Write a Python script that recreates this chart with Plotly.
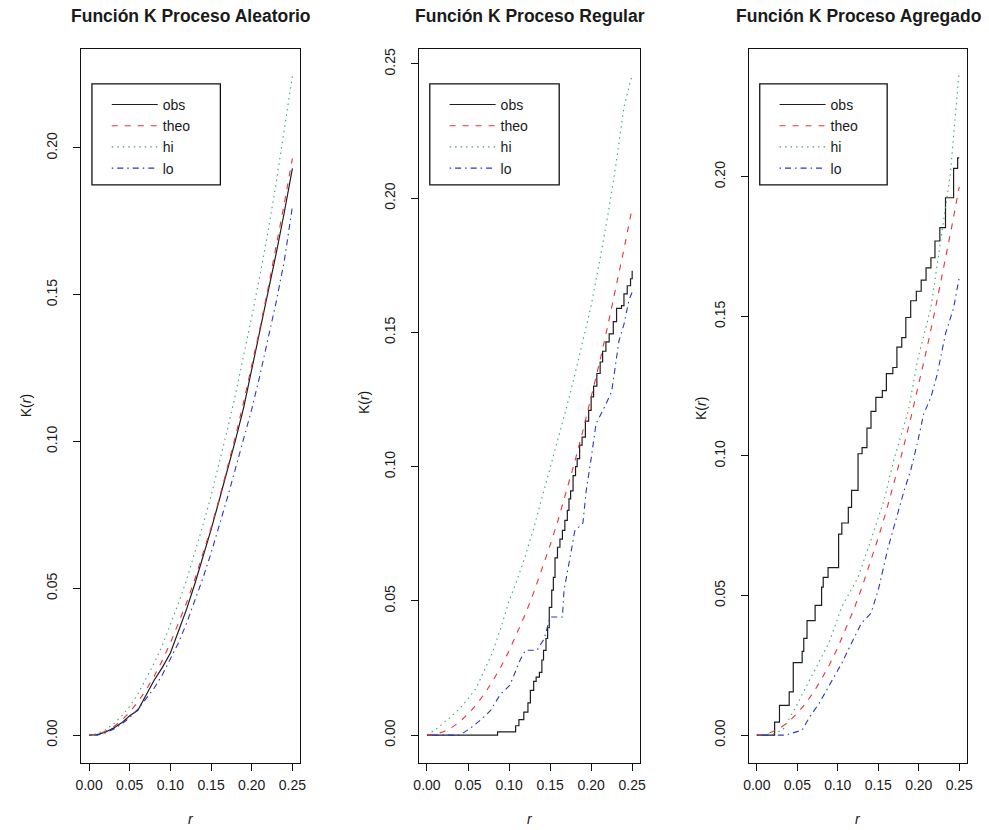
import plotly.graph_objects as go

W, H = 989, 830

# ---------------- data ----------------
titles = ["Función K Proceso Aleatorio", "Función K Proceso Regular", "Función K Proceso Agregado"]
series_names = ["obs", "theo", "hi", "lo"]
x_ticks = [0.00, 0.05, 0.10, 0.15, 0.20, 0.25]
y_ticks_1 = [0.00, 0.05, 0.10, 0.15, 0.20]
y_ticks_2 = [0.00, 0.05, 0.10, 0.15, 0.20, 0.25]
y_ticks_3 = [0.00, 0.05, 0.10, 0.15, 0.20]

r_grid = [0.00, 0.01, 0.02, 0.03, 0.04, 0.05, 0.06, 0.07, 0.08, 0.09, 0.10, 0.11, 0.12,
          0.13, 0.14, 0.15, 0.16, 0.17, 0.18, 0.19, 0.20, 0.21, 0.22, 0.23, 0.24, 0.25]
theo = [0.0000, 0.0003, 0.0013, 0.0028, 0.0050, 0.0079, 0.0113, 0.0154, 0.0201, 0.0254,
        0.0314, 0.0380, 0.0452, 0.0531, 0.0616, 0.0707, 0.0804, 0.0908, 0.1018, 0.1134,
        0.1257, 0.1385, 0.1521, 0.1662, 0.1810, 0.1964]

# Panel 1 (Aleatorio)
obs_1 = [0.0000, 0.0002, 0.0010, 0.0024, 0.0042, 0.0066, 0.0085, 0.0135, 0.0187, 0.0230,
         0.0280, 0.0355, 0.0430, 0.0515, 0.0605, 0.0700, 0.0800, 0.0900, 0.1005, 0.1115,
         0.1245, 0.1370, 0.1500, 0.1640, 0.1780, 0.1930]
hi_1 = [0.0000, 0.0005, 0.0018, 0.0038, 0.0065, 0.0098, 0.0140, 0.0190, 0.0245, 0.0305,
        0.0375, 0.0450, 0.0530, 0.0620, 0.0715, 0.0815, 0.0925, 0.1040, 0.1160, 0.1290,
        0.1425, 0.1565, 0.1715, 0.1880, 0.2055, 0.2245]
lo_1 = [0.0000, 0.0000, 0.0008, 0.0020, 0.0038, 0.0060, 0.0088, 0.0122, 0.0160, 0.0205,
        0.0258, 0.0315, 0.0382, 0.0455, 0.0535, 0.0620, 0.0712, 0.0808, 0.0908, 0.1010,
        0.1110, 0.1225, 0.1345, 0.1475, 0.1615, 0.1800]

# Panel 2 (Regular)
r_obs_2 = [0.000, 0.086, 0.108, 0.112, 0.118, 0.123, 0.126, 0.130, 0.133, 0.137, 0.140,
           0.142, 0.145, 0.147, 0.149, 0.152, 0.154, 0.156, 0.159, 0.162, 0.165, 0.168,
           0.171, 0.173, 0.175, 0.178, 0.181, 0.183, 0.186, 0.189, 0.193, 0.197, 0.200,
           0.203, 0.207, 0.211, 0.214, 0.218, 0.222, 0.227, 0.231, 0.237, 0.240, 0.244,
           0.248, 0.250]
obs_2 = [0.0000, 0.0012, 0.0035, 0.0058, 0.0086, 0.0120, 0.0167, 0.0200, 0.0216, 0.0234,
         0.0280, 0.0316, 0.0360, 0.0400, 0.0476, 0.0540, 0.0588, 0.0660, 0.0700, 0.0730,
         0.0763, 0.0800, 0.0837, 0.0880, 0.0910, 0.0967, 0.1000, 0.1030, 0.1080, 0.1110,
         0.1170, 0.1210, 0.1260, 0.1300, 0.1347, 0.1390, 0.1430, 0.1465, 0.1495, 0.1540,
         0.1590, 0.1600, 0.1644, 0.1674, 0.1700, 0.1730]
hi_2 = [0.0000, 0.0020, 0.0045, 0.0070, 0.0100, 0.0135, 0.0175, 0.0240, 0.0310, 0.0400,
        0.0500, 0.0580, 0.0670, 0.0770, 0.0880, 0.0990, 0.1100, 0.1220, 0.1340, 0.1470,
        0.1600, 0.1760, 0.1930, 0.2120, 0.2340, 0.2460]
r_lo_2 = [0.000, 0.040, 0.053, 0.065, 0.077, 0.089, 0.101, 0.1135, 0.120, 0.134, 0.143,
          0.150, 0.165, 0.167, 0.176, 0.180, 0.190, 0.194, 0.200, 0.206, 0.216, 0.225,
          0.234, 0.240, 0.246, 0.250]
lo_2 = [0.0000, 0.0000, 0.0026, 0.0056, 0.0090, 0.0150, 0.0186, 0.0280, 0.0316, 0.0316,
        0.0360, 0.0440, 0.0440, 0.0540, 0.0690, 0.0760, 0.0790, 0.0910, 0.1030, 0.1160,
        0.1220, 0.1280, 0.1470, 0.1530, 0.1620, 0.1650]

# Panel 3 (Agregado)
r_obs_3 = [0.000, 0.022, 0.028, 0.040, 0.045, 0.056, 0.058, 0.062, 0.072, 0.080, 0.082,
           0.088, 0.101, 0.105, 0.113, 0.117, 0.125, 0.130, 0.136, 0.141, 0.147, 0.155,
           0.160, 0.168, 0.173, 0.179, 0.184, 0.190, 0.197, 0.203, 0.209, 0.215, 0.220,
           0.226, 0.233, 0.243, 0.248, 0.250]
obs_3 = [0.0000, 0.0047, 0.0107, 0.0155, 0.0260, 0.0300, 0.0347, 0.0410, 0.0465, 0.0530,
         0.0565, 0.0600, 0.0720, 0.0760, 0.0816, 0.0877, 0.1008, 0.1030, 0.1100, 0.1160,
         0.1210, 0.1234, 0.1295, 0.1317, 0.1390, 0.1424, 0.1496, 0.1556, 0.1590, 0.1630,
         0.1674, 0.1710, 0.1770, 0.1818, 0.1925, 0.2030, 0.2068, 0.2068]
r_hi_3 = [0.000, 0.020, 0.032, 0.048, 0.065, 0.089, 0.105, 0.125, 0.141, 0.157, 0.170,
          0.187, 0.199, 0.215, 0.227, 0.239, 0.249, 0.250]
hi_3 = [0.0000, 0.0005, 0.0018, 0.0100, 0.0197, 0.0330, 0.0460, 0.0565, 0.0700, 0.0840,
        0.0995, 0.1160, 0.1350, 0.1530, 0.1770, 0.2010, 0.2350, 0.2370]
r_lo_3 = [0.000, 0.035, 0.056, 0.065, 0.077, 0.093, 0.105, 0.117, 0.129, 0.141, 0.150,
          0.162, 0.174, 0.182, 0.190, 0.199, 0.206, 0.215, 0.223, 0.233, 0.243, 0.250]
lo_3 = [0.0000, 0.0000, 0.0018, 0.0064, 0.0114, 0.0197, 0.0258, 0.0330, 0.0400, 0.0437,
        0.0520, 0.0670, 0.0800, 0.0877, 0.0948, 0.1055, 0.1150, 0.1210, 0.1295, 0.1438,
        0.1530, 0.1640]

# ---------------- layout helpers ----------------
def px_x(p):
    return p / W

def px_y(p):
    return 1 - p / H

FONT = "Liberation Sans, Arial, Helvetica, sans-serif"
TXT = "#1a1a1a"

styles = {
    "obs": dict(color="#1e1e1e", width=1.2, dash="solid"),
    "theo": dict(color="#e8323c", width=1.1, dash="6px,7px"),
    "hi": dict(color="#3aa86a", width=1.1, dash="1.5px,4px"),
    "lo": dict(color="#2b35c8", width=1.1, dash="1.5px,4px,6px,4px"),
}

panels = [
    dict(box=(76, 298), yr=(-0.0095, 0.2337), yt=y_ticks_1, leg=(87, 217),
         ytitle_x=20, ytitle_y=405,
         data={"obs": (r_grid, obs_1, "linear"), "theo": (r_grid, theo, "linear"),
               "hi": (r_grid, hi_1, "linear"), "lo": (r_grid, lo_1, "linear")}),
    dict(box=(418, 642), yr=(-0.0104, 0.2556), yt=y_ticks_2, leg=(429, 560),
         ytitle_x=362, ytitle_y=402,
         data={"obs": (r_obs_2, obs_2, "hv"), "theo": (r_grid, theo, "linear"),
               "hi": (r_grid, hi_2, "linear"), "lo": (r_lo_2, lo_2, "linear")}),
    dict(box=(752, 973), yr=(-0.0100, 0.2458), yt=y_ticks_3, leg=(763, 892),
         ytitle_x=703, ytitle_y=408,
         data={"obs": (r_obs_3, obs_3, "hv"), "theo": (r_grid, theo, "linear"),
               "hi": (r_hi_3, hi_3, "linear"), "lo": (r_lo_3, lo_3, "linear")}),
]

TOP, BOTTOM = 48, 763

fig = go.Figure()
layout = dict(
    width=W, height=H,
    margin=dict(l=0, r=0, t=0, b=0),
    paper_bgcolor="white", plot_bgcolor="white",
    font=dict(family=FONT, size=14, color=TXT),
    showlegend=True,
    hovermode=False,
    annotations=[], shapes=[],
)

for i, p in enumerate(panels):
    n = i + 1
    xa = "x" if n == 1 else f"x{n}"
    ya = "y" if n == 1 else f"y{n}"
    leg = "legend" if n == 1 else f"legend{n}"
    for name in series_names:
        xs, ys, shape = p["data"][name]
        fig.add_trace(go.Scatter(
            x=xs, y=ys, mode="lines", name=name,
            line=dict(color=styles[name]["color"], width=styles[name]["width"],
                      dash=styles[name]["dash"], shape=shape),
            xaxis=xa, yaxis=ya, legend=leg,
        ))
    axcommon = dict(showgrid=False, zeroline=False, showline=True, mirror=True,
                    linecolor="#111", linewidth=1.3, ticks="outside", ticklen=7,
                    tickwidth=1.2, tickcolor="#111",
                    tickfont=dict(family=FONT, size=14, color=TXT),
                    tickformat=".2f", fixedrange=True)
    layout["xaxis" if n == 1 else f"xaxis{n}"] = dict(
        axcommon, domain=[px_x(p["box"][0]), px_x(p["box"][1])],
        range=[-0.0098, 0.2598], tickvals=x_ticks, anchor=ya,
        ticklabelstandoff=2)
    layout["yaxis" if n == 1 else f"yaxis{n}"] = dict(
        axcommon, domain=[px_y(BOTTOM), px_y(TOP)],
        range=list(p["yr"]), tickvals=p["yt"], anchor=xa, tickangle=-90,
        ticklabelstandoff=10)
    layout[leg] = dict(
        x=px_x(p["leg"][0] + 15), y=px_y(88), xanchor="left", yanchor="top",
        bgcolor="rgba(255,255,255,0)", borderwidth=0,
        font=dict(family=FONT, size=14, color=TXT), itemwidth=46,
        tracegroupgap=0,
    )
    layout["shapes"].append(dict(
        type="rect", xref="paper", yref="paper",
        x0=px_x(p["leg"][0]), x1=px_x(p["leg"][1]), y0=px_y(184), y1=px_y(83),
        line=dict(color="#111", width=1.3), fillcolor="rgba(0,0,0,0)", layer="above"))
    # title
    layout["annotations"].append(dict(
        text=f"<b>{titles[i]}</b>", xref=f"{xa} domain", yref="paper",
        x=0.5, y=px_y(15), xanchor="center", yanchor="middle", showarrow=False,
        font=dict(family=FONT, size=17.5, color=TXT)))
    # y title
    layout["annotations"].append(dict(
        text="K(<i>r</i>)", xref="paper", yref="paper",
        x=px_x(p["ytitle_x"]), y=px_y(p["ytitle_y"]), xanchor="center", yanchor="middle",
        textangle=-90, showarrow=False, font=dict(family=FONT, size=14, color=TXT)))
    # x title
    layout["annotations"].append(dict(
        text="<i>r</i>", xref=f"{xa} domain", yref="paper",
        x=0.5, y=px_y(819), xanchor="center", yanchor="middle", showarrow=False,
        font=dict(family=FONT, size=14, color=TXT)))

fig.update_layout(**layout)
fig.write_html(
    "out.html",
    config={"displayModeBar": False},
    post_script="document.body.style.margin='0px';document.body.style.overflow='hidden';",
)
